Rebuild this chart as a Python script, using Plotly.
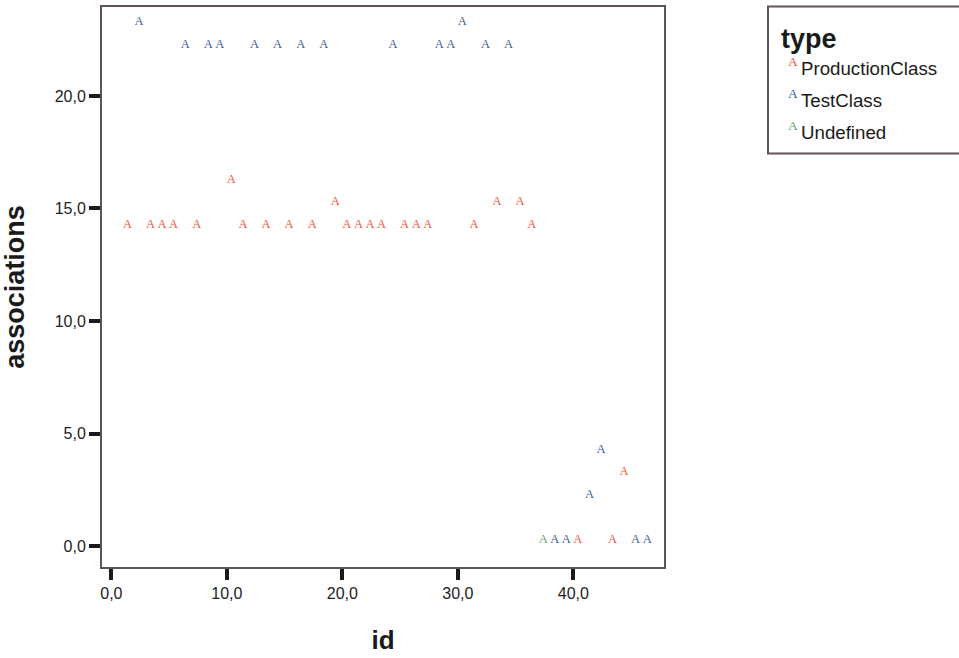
import plotly.graph_objects as go

# ---- data ----
ids = list(range(1, 47))
associations = [14, 23, 14, 14, 14, 22, 14, 22, 22, 16,
                14, 22, 14, 22, 14, 22, 14, 22, 15, 14,
                14, 14, 14, 22, 14, 14, 14, 22, 22, 23,
                14, 22, 15, 22, 15, 14, 0, 0, 0, 0,
                2, 4, 0, 3, 0, 0]
types = ["ProductionClass", "TestClass", "ProductionClass", "ProductionClass", "ProductionClass",
         "TestClass", "ProductionClass", "TestClass", "TestClass", "ProductionClass",
         "ProductionClass", "TestClass", "ProductionClass", "TestClass", "ProductionClass",
         "TestClass", "ProductionClass", "TestClass", "ProductionClass", "ProductionClass",
         "ProductionClass", "ProductionClass", "ProductionClass", "TestClass", "ProductionClass",
         "ProductionClass", "ProductionClass", "TestClass", "TestClass", "TestClass",
         "ProductionClass", "TestClass", "ProductionClass", "TestClass", "ProductionClass",
         "ProductionClass", "Undefined", "TestClass", "TestClass", "ProductionClass",
         "TestClass", "TestClass", "ProductionClass", "ProductionClass", "TestClass",
         "TestClass"]
categories = ["ProductionClass", "TestClass", "Undefined"]
colors = {"ProductionClass": "#F0553E", "TestClass": "#3D5E9C", "Undefined": "#5FA46F"}

x_tickvals = [0, 10, 20, 30, 40]
x_ticktext = ["0,0", "10,0", "20,0", "30,0", "40,0"]
y_tickvals = [0, 5, 10, 15, 20]
y_ticktext = ["0,0", "5,0", "10,0", "15,0", "20,0"]

fig = go.Figure()
for cat in categories:
    xs = [i for i, t in zip(ids, types) if t == cat]
    ys = [a for a, t in zip(associations, types) if t == cat]
    fig.add_trace(go.Scatter(
        x=xs, y=ys, mode="text", text=["A"] * len(xs),
        textposition="top right",
        textfont=dict(family="Liberation Serif", size=12.5, color=colors[cat]),
        name=cat, showlegend=False, cliponaxis=False))

# plot area: px left 102, right 664, top 5, bottom 567
L, R, T, B = 102, 664, 5, 567
W, H = 959, 658
def px(xp):
    return (xp - L) / (R - L)
def py(yp):
    return (B - yp) / (B - T)

axis_common = dict(showgrid=False, zeroline=False, showline=True, mirror=True,
                   linecolor="#5E5454", linewidth=2, ticks="outside", ticklen=11,
                   tickwidth=4, tickcolor="#1A1A1A",
                   tickfont=dict(family="Liberation Sans", size=16, color="#222222"))

fig.update_xaxes(range=[-0.81, 47.85], tickvals=x_tickvals, ticktext=x_ticktext,
                 title=dict(text="<b>id</b>", font=dict(family="Liberation Sans", size=26, color="#1A1A1A"),
                            standoff=30),
                 **axis_common)
fig.update_yaxes(range=[-0.93, 23.95], tickvals=y_tickvals, ticktext=y_ticktext,
                 title=dict(text="<b>associations</b>", font=dict(family="Liberation Sans", size=27, color="#1A1A1A"),
                            standoff=22),
                 **axis_common)

# legend drawn manually
fig.add_shape(type="rect", xref="paper", yref="paper",
              x0=px(768), x1=px(965), y0=py(152), y1=py(4.5),
              line=dict(color="#5E5454", width=2), fillcolor="white", layer="below")
fig.add_annotation(xref="paper", yref="paper", x=px(779), y=py(37), text="<b>type</b>",
                   showarrow=False, xanchor="left", yanchor="middle",
                   font=dict(family="Liberation Sans", size=27, color="#1A1A1A"))
item_y = [67, 99, 131]
for cat, yy in zip(categories, item_y):
    fig.add_annotation(xref="paper", yref="paper", x=px(786), y=py(yy - 7), text="A",
                       showarrow=False, xanchor="left", yanchor="middle",
                       font=dict(family="Liberation Serif", size=13.5, color=colors[cat]))
    fig.add_annotation(xref="paper", yref="paper", x=px(799), y=py(yy), text=cat,
                       showarrow=False, xanchor="left", yanchor="middle",
                       font=dict(family="Liberation Sans", size=18.7, color="#1A1A1A"))

fig.update_layout(width=W, height=H, margin=dict(l=L, r=W - R, t=T, b=H - B),
                  paper_bgcolor="white", plot_bgcolor="white", showlegend=False)

fig.write_html("out.html", config={"displayModeBar": False},
               post_script="document.body.style.margin='0';document.body.style.overflow='hidden';")
